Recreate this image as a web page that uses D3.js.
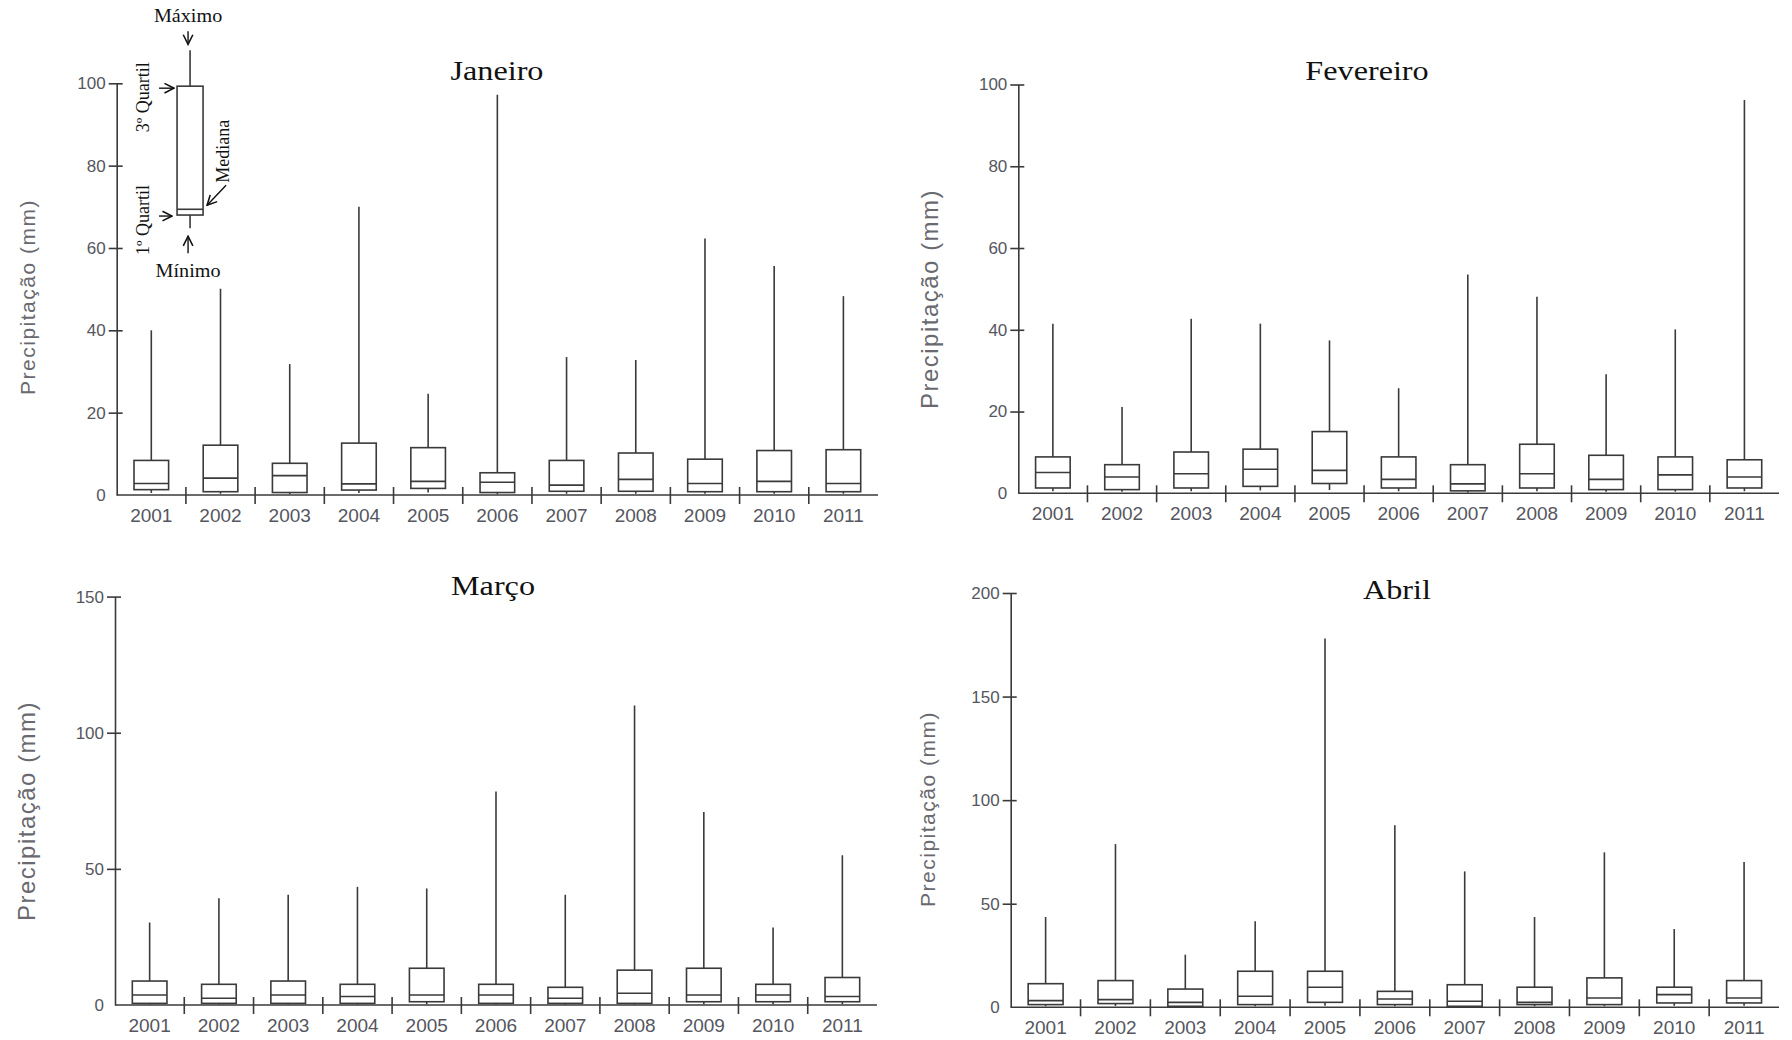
<!DOCTYPE html>
<html>
<head>
<meta charset="utf-8">
<script src="https://cdn.jsdelivr.net/npm/d3@7"></script>
<style>
  body { margin: 0; background: #fff; }
  .ytick text { font-family: "Liberation Sans", Arial, sans-serif; font-size: 17px; fill: #55565e; }
</style>
</head>
<body>
<div id="the_chart"></div>
<script>
var years = ["2001","2002","2003","2004","2005","2006","2007","2008","2009","2010","2011"];
var months = ["Janeiro","Fevereiro","Março","Abril"];

// Janeiro
var janMax = [40, 50.1, 31.8, 70, 24.6, 97.2, 33.5, 32.8, 62.3, 55.6, 48.3];
var janQ3  = [8.4, 12.1, 7.7, 12.6, 11.5, 5.4, 8.4, 10.2, 8.7, 10.8, 11.0];
var janMed = [2.8, 4.1, 4.7, 2.7, 3.3, 3.1, 2.4, 3.8, 2.8, 3.3, 2.8];
var janQ1  = [1.3, 0.8, 0.6, 1.2, 1.6, 0.6, 0.9, 0.9, 0.8, 0.8, 0.8];
var janMin = [0.5, 0.3, 0.2, 0.5, 0.6, 0.2, 0.3, 0.3, 0.3, 0.3, 0.3];
var janTicks = [0, 20, 40, 60, 80, 100];

// Fevereiro
var fevMax = [41.5, 21.1, 42.7, 41.5, 37.4, 25.7, 53.5, 48.1, 29.1, 40.1, 96.2];
var fevQ3  = [8.9, 7.0, 10.1, 10.8, 15.1, 8.9, 7.0, 12.0, 9.3, 8.9, 8.2];
var fevMed = [5.1, 4.0, 4.8, 5.9, 5.6, 3.4, 2.3, 4.8, 3.4, 4.5, 4.0];
var fevQ1  = [1.3, 0.9, 1.3, 1.7, 2.4, 1.3, 0.6, 1.3, 0.9, 0.9, 1.3];
var fevMin = [0.5, 0.4, 0.5, 0.7, 0.8, 0.5, 0.2, 0.5, 0.4, 0.4, 0.5];
var fevTicks = [0, 20, 40, 60, 80, 100];

// Março
var marMax = [30.3, 39.2, 40.5, 43.4, 42.8, 78.4, 40.5, 110, 70.9, 28.5, 55];
var marQ3  = [8.8, 7.6, 8.8, 7.6, 13.5, 7.6, 6.5, 12.8, 13.5, 7.6, 10.1];
var marMed = [3.7, 2.5, 3.7, 3.1, 3.7, 3.7, 2.5, 4.3, 3.7, 3.7, 3.1];
var marQ1  = [0.6, 0.6, 0.6, 0.6, 1.2, 0.6, 0.6, 0.6, 1.2, 1.2, 1.2];
var marMin = [0.2, 0.2, 0.2, 0.2, 0.3, 0.2, 0.2, 0.2, 0.3, 0.3, 0.3];
var marTicks = [0, 50, 100, 150];

// Abril
var abrMax = [43.6, 78.8, 25.4, 41.5, 178, 87.9, 65.6, 43.6, 74.8, 37.8, 70.2];
var abrQ3  = [11.4, 12.9, 8.8, 17.4, 17.4, 7.7, 10.9, 9.7, 14.2, 9.7, 12.9];
var abrMed = [3.2, 3.7, 2.4, 5.3, 9.7, 4.0, 2.9, 2.4, 4.5, 6.1, 4.5];
var abrQ1  = [1.3, 1.8, 0.5, 1.3, 2.4, 1.3, 0.5, 1.3, 1.3, 2.1, 2.1];
var abrMin = [0.5, 0.6, 0.2, 0.5, 0.8, 0.5, 0.2, 0.5, 0.5, 0.7, 0.7];
var abrTicks = [0, 50, 100, 150, 200];

// legend box (drawn on Janeiro's scale)
var legendNames = ["Máximo", "3º Quartil", "Mediana", "1º Quartil", "Mínimo"];
var legendVals  = [108, 99.3, 69.4, 68, 64.8];

var w = 1792, h = 1040;
var lineCol = "#3a3a3a";

var layout = [
  {left: 116.7, right: 878, top: 83.3, bottom: 495, titleX: 497, titleY: 80, labX: 27, labY: 297, labSize: 21},
  {left: 1018.3, right: 1779, top: 84.5, bottom: 493.3, titleX: 1367, titleY: 80, labX: 929, labY: 299, labSize: 24},
  {left: 115, right: 877, top: 596.6, bottom: 1005, titleX: 493, titleY: 595, labX: 26, labY: 811, labSize: 24},
  {left: 1010.7, right: 1779, top: 593, bottom: 1007.3, titleX: 1397, titleY: 599, labX: 927, labY: 809, labSize: 21}
];

var series = [
  [janMax, janQ3, janMed, janQ1, janMin, janTicks],
  [fevMax, fevQ3, fevMed, fevQ1, fevMin, fevTicks],
  [marMax, marQ3, marMed, marQ1, marMin, marTicks],
  [abrMax, abrQ3, abrMed, abrQ1, abrMin, abrTicks]
];

var svg = d3.select("#the_chart")
            .append("svg")
            .attr("width", w)
            .attr("height", h);

// open arrow head used by the legend
svg.append("defs").append("marker")
   .attr("id", "arr")
   .attr("viewBox", "0 0 10 10")
   .attr("refX", 9).attr("refY", 5)
   .attr("markerWidth", 12).attr("markerHeight", 12)
   .attr("markerUnits", "userSpaceOnUse")
   .attr("orient", "auto")
   .append("path")
   .attr("d", "M1,1 L9,5 L1,9")
   .attr("fill", "none")
   .attr("stroke", "#111")
   .attr("stroke-width", 1.3);

var scales = [];

series.forEach(function (s, k) {
  var p = layout[k];
  var ticks = s[5];
  var rows = years.map(function (yr, i) {
    return {year: yr, max: s[0][i], q3: s[1][i], med: s[2][i], q1: s[3][i], min: s[4][i]};
  });

  var y = d3.scaleLinear()
            .domain([0, ticks[ticks.length - 1]])
            .range([p.bottom, p.top]);
  var x = d3.scaleBand()
            .domain(years)
            .range([p.left, p.right]);
  scales.push({x: x, y: y});

  var g = svg.append("g");

  // y axis, ticks crossing the line
  var yaxis = d3.axisLeft(y).tickValues(ticks).tickSizeInner(8).tickSizeOuter(0).tickPadding(3);
  var ya = g.append("g")
            .attr("class", "ytick")
            .attr("transform", "translate(" + p.left + ",0)")
            .call(yaxis);
  ya.select(".domain").attr("stroke", lineCol).attr("stroke-width", 1.6);
  ya.selectAll(".tick line")
    .attr("stroke", lineCol).attr("stroke-width", 1.6)
    .attr("x1", 6)
    .attr("opacity", function (d) { return d === 0 ? 0 : 1; });

  // x axis line + separators
  g.append("line")
   .attr("x1", p.left).attr("x2", p.right)
   .attr("y1", y(0)).attr("y2", y(0))
   .attr("stroke", lineCol).attr("stroke-width", 1.6);
  g.selectAll(".sep")
   .data(years.slice(1))
   .enter().append("line")
   .attr("x1", function (d) { return x(d); })
   .attr("x2", function (d) { return x(d); })
   .attr("y1", y(0) - 8).attr("y2", y(0) + 9)
   .attr("stroke", lineCol).attr("stroke-width", 1.6);
  g.selectAll(".xlab")
   .data(years)
   .enter().append("text")
   .attr("x", function (d) { return x(d) + x.bandwidth() / 2; })
   .attr("y", y(0) + 27)
   .attr("text-anchor", "middle")
   .attr("font-family", "Liberation Sans, Arial, sans-serif")
   .attr("font-size", 19)
   .attr("fill", "#55565e")
   .text(function (d) { return d; });

  var bw = x.bandwidth() * 0.5;
  var cx = function (d) { return x(d.year) + x.bandwidth() / 2; };

  // whiskers
  g.selectAll(".wup")
   .data(rows)
   .enter().append("line")
   .attr("x1", cx).attr("x2", cx)
   .attr("y1", function (d) { return y(d.q3); })
   .attr("y2", function (d) { return y(d.max); })
   .attr("stroke", lineCol).attr("stroke-width", 1.6);
  g.selectAll(".wdn")
   .data(rows)
   .enter().append("line")
   .attr("x1", cx).attr("x2", cx)
   .attr("y1", function (d) { return y(d.q1); })
   .attr("y2", function (d) { return y(d.min); })
   .attr("stroke", lineCol).attr("stroke-width", 1.6);

  // boxes
  g.selectAll(".box")
   .data(rows)
   .enter().append("rect")
   .attr("x", function (d) { return cx(d) - bw / 2; })
   .attr("width", bw)
   .attr("y", function (d) { return y(d.q3); })
   .attr("height", function (d) { return y(d.q1) - y(d.q3); })
   .attr("fill", "#fff")
   .attr("stroke", lineCol).attr("stroke-width", 1.6);
  g.selectAll(".med")
   .data(rows)
   .enter().append("line")
   .attr("x1", function (d) { return cx(d) - bw / 2; })
   .attr("x2", function (d) { return cx(d) + bw / 2; })
   .attr("y1", function (d) { return y(d.med); })
   .attr("y2", function (d) { return y(d.med); })
   .attr("stroke", lineCol).attr("stroke-width", 1.6);

  // title
  g.append("text")
   .attr("transform", "translate(" + p.titleX + "," + p.titleY + ") scale(1.15,1)")
   .attr("text-anchor", "middle")
   .attr("font-family", "Liberation Serif, Times New Roman, serif")
   .attr("font-size", 28)
   .attr("fill", "#111")
   .text(months[k]);

  // y label
  g.append("text")
   .attr("transform", "translate(" + p.labX + "," + p.labY + ") rotate(-90)")
   .attr("text-anchor", "middle")
   .attr("dominant-baseline", "central")
   .attr("font-family", "Liberation Sans, Arial, sans-serif")
   .attr("font-size", p.labSize)
   .attr("letter-spacing", 1.5)
   .attr("fill", "#69696f")
   .text("Precipitação (mm)");
});

// legend box inside Janeiro
(function () {
  var x = scales[0].x, y = scales[0].y;
  var lx = x.range()[0] + x.bandwidth() * 1.06;
  var lw = 26;
  var g = svg.append("g");
  var ymax = y(legendVals[0]), yq3 = y(legendVals[1]), ymed = y(legendVals[2]),
      yq1 = y(legendVals[3]), ymin = y(legendVals[4]);

  g.append("line").attr("x1", lx).attr("x2", lx).attr("y1", yq3).attr("y2", ymax)
   .attr("stroke", lineCol).attr("stroke-width", 1.6);
  g.append("line").attr("x1", lx).attr("x2", lx).attr("y1", yq1).attr("y2", ymin)
   .attr("stroke", lineCol).attr("stroke-width", 1.6);
  g.append("rect").attr("x", lx - lw / 2).attr("width", lw)
   .attr("y", yq3).attr("height", yq1 - yq3)
   .attr("fill", "#fff").attr("stroke", lineCol).attr("stroke-width", 1.6);
  g.append("line").attr("x1", lx - lw / 2).attr("x2", lx + lw / 2).attr("y1", ymed).attr("y2", ymed)
   .attr("stroke", lineCol).attr("stroke-width", 1.6);

  var arrows = [
    [lx - 2, ymax - 19, lx - 2, ymax - 6],
    [lx - 31, yq3 + 2, lx - 16, yq3 + 2],
    [lx + 36, ymed - 24, lx + 17, ymed - 4],
    [lx - 31, yq1 + 1, lx - 18, yq1 + 1],
    [lx - 2, ymin + 25, lx - 2, ymin + 8]
  ];
  g.selectAll(".arr")
   .data(arrows)
   .enter().append("line")
   .attr("x1", function (d) { return d[0]; })
   .attr("y1", function (d) { return d[1]; })
   .attr("x2", function (d) { return d[2]; })
   .attr("y2", function (d) { return d[3]; })
   .attr("stroke", "#111").attr("stroke-width", 1.4)
   .attr("marker-end", "url(#arr)");

  var font = "Liberation Serif, Times New Roman, serif";
  var labs = [
    [legendNames[0], lx - 2, ymax - 28, 0],
    [legendNames[1], lx - 47, yq3 + 11, -90],
    [legendNames[2], lx + 33, ymed - 58, -90],
    [legendNames[3], lx - 47, yq1 + 5, -90],
    [legendNames[4], lx - 2, ymin + 49, 0]
  ];
  g.selectAll(".ltxt")
   .data(labs)
   .enter().append("text")
   .attr("transform", function (d) {
     return d[3] === 0 ? "translate(" + d[1] + "," + d[2] + ") scale(1.12,1)"
                       : "translate(" + d[1] + "," + d[2] + ") rotate(-90)";
   })
   .attr("text-anchor", "middle")
   .attr("dominant-baseline", function (d) { return d[3] === 0 ? "auto" : "central"; })
   .attr("font-family", font)
   .attr("font-size", 18)
   .attr("fill", "#111")
   .text(function (d) { return d[0]; });
})();
</script>
</body>
</html>
